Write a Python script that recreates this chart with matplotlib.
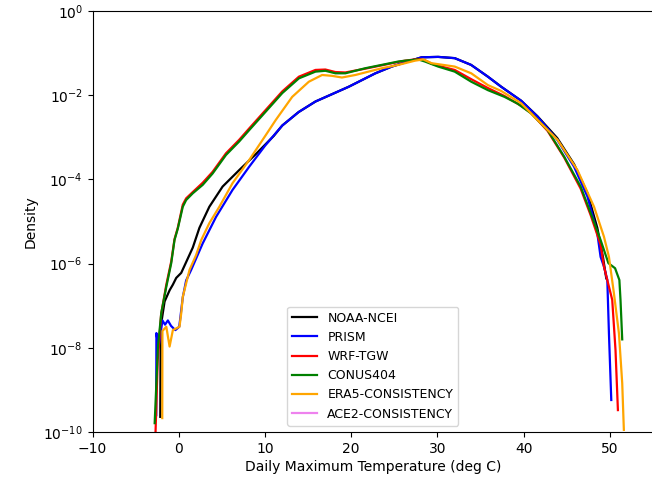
import numpy as np
from matplotlib import pyplot as plt

# values: temperature (deg C) and log10(density)

# NOAA-NCEI
noaa_x = [-2.15, -2.1, -1.65, -1.06, -0.69, -0.30, 0.28, 0.66, 1.62, 2.39, 3.54, 5.08, 7.0, 8.93,
          11.0, 12.0, 13.9, 15.85, 19.7, 22.8, 24.7, 28.15, 30.08, 32.0, 33.9, 35.85, 37.4, 39.7,
          41.6, 43.9, 45.85, 47.4, 48.54, 49.2, 49.58]
noaa_log = [-9.64, -7.5, -6.9, -6.63, -6.5, -6.34, -6.22, -6.05, -5.62, -5.15, -4.65, -4.17, -3.78, -3.4,
            -2.97, -2.72, -2.4, -2.15, -1.80, -1.48, -1.32, -1.10, -1.09, -1.12, -1.28, -1.56, -1.80, -2.13,
            -2.50, -3.02, -3.64, -4.33, -5.15, -5.85, -6.35]

# PRISM
prism_x = [-2.62, -2.6, -2.35, -1.9, -1.6, -1.27, -0.9, -0.4, 0.05, 0.46, 0.85, 1.43, 2.77, 4.32,
           6.23, 8.16, 10.0, 12.0, 13.9, 15.85, 19.7, 22.8, 24.7, 28.15, 30.08, 32.0, 33.9, 35.85,
           37.4, 39.7, 41.6, 43.9, 45.85, 47.4, 48.54, 48.92, 49.31, 49.7, 49.89, 50.16]
prism_log = [-9.6, -7.65, -8.0, -7.35, -7.45, -7.35, -7.48, -7.58, -7.5, -6.8, -6.4, -6.15, -5.52, -4.89,
             -4.25, -3.70, -3.2, -2.72, -2.4, -2.15, -1.80, -1.48, -1.32, -1.10, -1.09, -1.12, -1.28, -1.56,
             -1.80, -2.13, -2.51, -3.06, -3.70, -4.41, -5.28, -5.84, -6.07, -6.39, -7.66, -9.24]

# WRF-TGW
wrf_x = [-2.7, -2.45, -2.05, -1.45, -0.88, -0.5, -0.12, 0.46, 0.85, 1.62, 2.77, 3.92, 5.47, 7.0,
         8.16, 10.08, 12.0, 13.93, 15.85, 17.0, 18.16, 19.31, 21.62, 23.54, 25.46, 26.24, 27.77,
         28.54, 29.3, 30.08, 32.0, 33.92, 35.85, 37.78, 39.69, 40.85, 42.78, 44.7, 46.61, 47.77,
         48.92, 49.31, 50.27, 50.65, 50.93]
wrf_log = [-10.0, -8.3, -7.2, -6.5, -5.95, -5.42, -5.15, -4.6, -4.45, -4.3, -4.08, -3.82, -3.38, -3.06,
           -2.79, -2.35, -1.91, -1.56, -1.40, -1.39, -1.45, -1.46, -1.37, -1.29, -1.21, -1.18, -1.14,
           -1.17, -1.25, -1.30, -1.40, -1.62, -1.83, -2.02, -2.25, -2.42, -2.85, -3.48, -4.22, -4.85,
           -5.55, -6.07, -6.86, -8.05, -9.48]

# CONUS404
conus_x = [-2.80, -2.42, -2.03, -1.45, -0.88, -0.50, -0.12, 0.46, 0.85, 1.62, 2.77, 3.92, 5.47, 7.0,
           8.16, 10.08, 12.0, 13.93, 15.85, 17.0, 18.16, 19.31, 21.62, 23.54, 25.46, 26.24, 27.77,
           28.54, 30.08, 32.0, 33.92, 35.85, 37.78, 39.3, 40.85, 42.78, 44.70, 46.61, 47.77, 48.92,
           49.83, 50.6, 51.1, 51.23, 51.43]
conus_log = [-9.79, -7.97, -7.17, -6.55, -5.99, -5.44, -5.17, -4.65, -4.49, -4.33, -4.13, -3.86, -3.42, -3.10,
             -2.83, -2.39, -1.95, -1.60, -1.44, -1.42, -1.48, -1.48, -1.36, -1.28, -1.20, -1.18, -1.15,
             -1.20, -1.32, -1.44, -1.68, -1.88, -2.04, -2.2, -2.43, -2.83, -3.46, -4.17, -4.80, -5.44,
             -5.99, -6.11, -6.39, -6.86, -7.8]

# ERA5-CONSISTENCY
era5_x = [-1.92, -1.9, -1.45, -1.07, -0.69, 0.08, 0.28, 0.46, 1.24, 2.0, 2.6, 3.54, 4.7, 6.23,
          8.16, 10.08, 11.24, 13.15, 15.08, 16.62, 17.77, 18.92, 20.47, 23.54, 25.46, 27.39, 28.35,
          29.31, 32.0, 33.92, 35.85, 37.4, 39.7, 41.62, 43.93, 46.24, 48.16, 49.31, 49.89, 50.47,
          51.05, 51.43, 51.62]
era5_log = [-9.67, -7.6, -7.5, -7.97, -7.58, -7.5, -7.18, -6.79, -6.15, -5.8, -5.44, -5.04, -4.65, -4.09,
            -3.54, -2.95, -2.59, -2.04, -1.68, -1.52, -1.54, -1.58, -1.52, -1.36, -1.28, -1.18, -1.15,
            -1.24, -1.32, -1.48, -1.76, -1.9, -2.19, -2.59, -3.06, -3.78, -4.65, -5.36, -5.84, -6.71,
            -7.66, -8.84, -9.95]

# ACE2-CONSISTENCY: nothing visible in the plot, only in the legend
ace2_x = []
ace2_log = []

serije = [
    ('NOAA-NCEI', noaa_x, noaa_log, 'black'),
    ('PRISM', prism_x, prism_log, 'blue'),
    ('WRF-TGW', wrf_x, wrf_log, 'red'),
    ('CONUS404', conus_x, conus_log, 'green'),
    ('ERA5-CONSISTENCY', era5_x, era5_log, 'orange'),
    ('ACE2-CONSISTENCY', ace2_x, ace2_log, 'violet'),
]

fig = plt.figure(figsize=(6.52, 4.8), dpi=100)
ax = fig.add_axes([92.6 / 652, 48 / 480, (653 - 92.6) / 652, 421 / 480])

for ime, xs, logs, boja in serije:
    ax.plot(xs, 10 ** np.array(logs, dtype=float), color=boja, linewidth=1.6, label=ime)

ax.set_yscale('log')
ax.set_xlim(-10, 55)
ax.set_ylim(1e-10, 1)
ax.set_xlabel('Daily Maximum Temperature (deg C)', labelpad=3)
ax.set_ylabel('Density')
ax.legend(loc='lower center', fontsize=9)

fig.savefig('out.png', dpi=100)
